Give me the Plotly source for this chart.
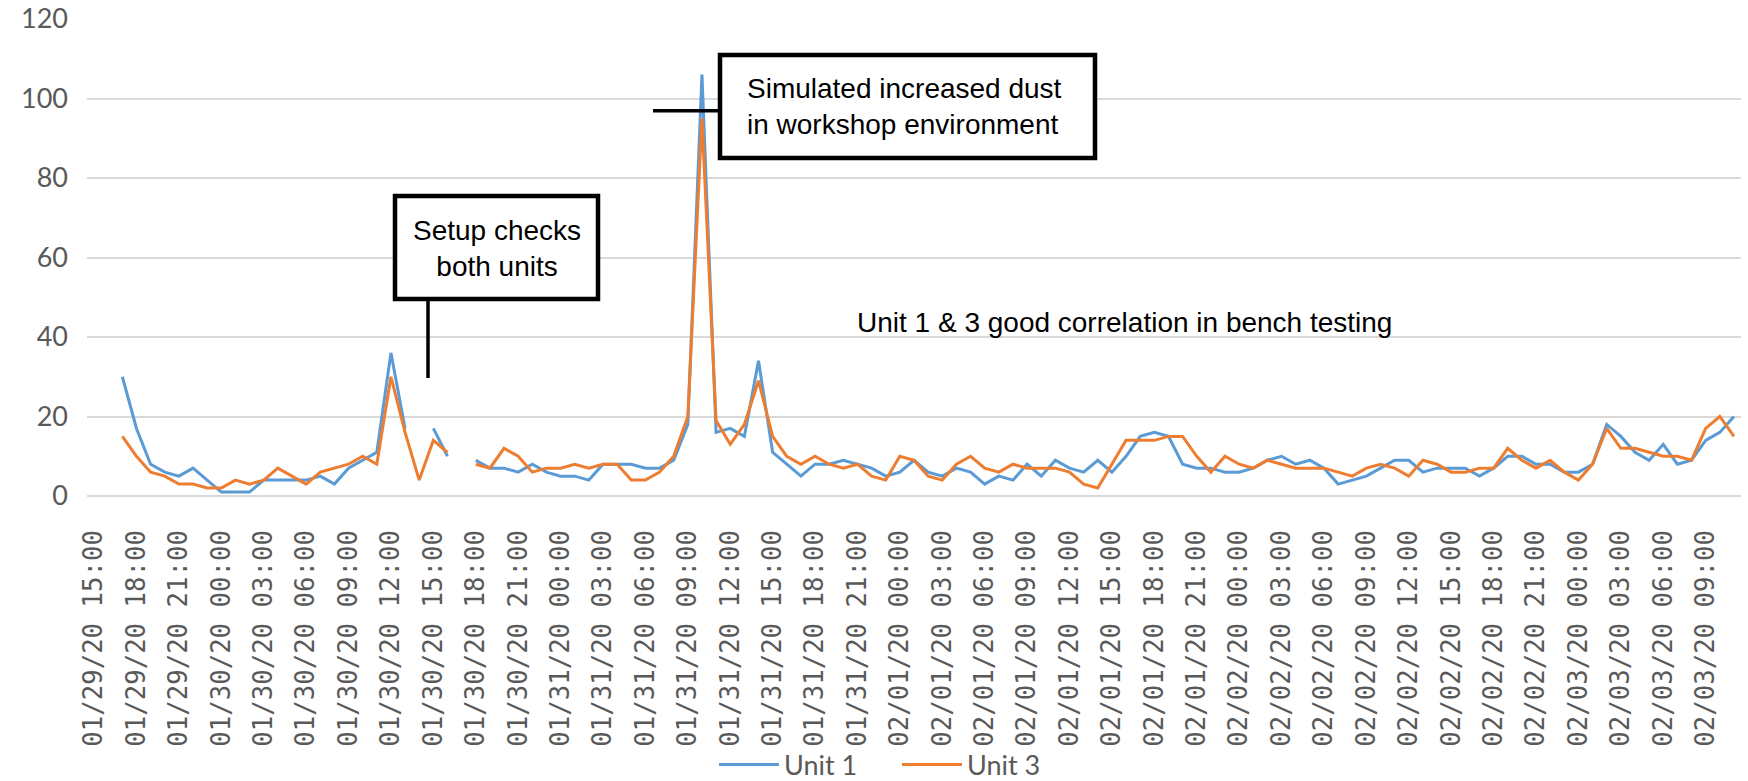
import pandas as pd
import plotly.graph_objects as go

# Hourly categories 01/29/20 15:00 .. 02/03/20 11:00
categories = [t.strftime("%m/%d/%y %H:%M") for t in pd.date_range("2020-01-29 15:00", "2020-02-03 11:00", freq="h")]
tick_labels = categories[::3]

unit1 = [None, None, 30, 17, 8, 6, 5, 7, 4, 1, 1, 1, 4, 4, 4, 4, 5, 3, 7, 9, 11, 36, 17, None, 17, 10, None,
         9, 7, 7, 6, 8, 6, 5, 5, 4, 8, 8, 8, 7, 7, 9, 18, 106, 16, 17, 15, 34,
         11, 8, 5, 8, 8, 9, 8, 7, 5, 6, 9, 6, 5, 7, 6, 3, 5, 4, 8, 5, 9, 7, 6, 9,
         6, 10, 15, 16, 15, 8, 7, 7, 6, 6, 7, 9, 10, 8, 9, 7, 3, 4, 5, 7, 9, 9, 6, 7,
         7, 7, 5, 7, 10, 10, 8, 8, 6, 6, 8, 18, 15, 11, 9, 13, 8, 9, 14, 16, 20]

unit3 = [None, None, 15, 10, 6, 5, 3, 3, 2, 2, 4, 3, 4, 7, 5, 3, 6, 7, 8, 10, 8, 30, 16, 4, 14, 11, None,
         8, 7, 12, 10, 6, 7, 7, 8, 7, 8, 8, 4, 4, 6, 10, 20, 95, 19, 13, 18, 29,
         15, 10, 8, 10, 8, 7, 8, 5, 4, 10, 9, 5, 4, 8, 10, 7, 6, 8, 7, 7, 7, 6, 3, 2,
         8, 14, 14, 14, 15, 15, 10, 6, 10, 8, 7, 9, 8, 7, 7, 7, 6, 5, 7, 8, 7, 5, 9, 8,
         6, 6, 7, 7, 12, 9, 7, 9, 6, 4, 8, 17, 12, 12, 11, 10, 10, 9, 17, 20, 15]

series_names = ["Unit 1", "Unit 3"]
series_colors = ["#5B9BD5", "#ED7D31"]

W, H = 1748, 781
L, R, T, B = 87, 7, 19, 285
PW, PH = W - L - R, H - T - B


def px(x):
    return (x - L) / PW


def py(y):
    return (H - B - y) / PH


fig = go.Figure()
for name, vals, col in zip(series_names, [unit1, unit3], series_colors):
    fig.add_trace(go.Scatter(x=categories, y=vals, name=name, mode="lines",
                             line=dict(color=col, width=3), connectgaps=False))

grid = "#D9D9D9"
fig.update_layout(
    width=W, height=H,
    margin=dict(l=L, r=R, t=T, b=B, autoexpand=False),
    paper_bgcolor="white", plot_bgcolor="white",
    showlegend=True,
    legend=dict(orientation="h", x=px(897), xanchor="center", y=py(765), yanchor="middle",
                font=dict(family="Lato", size=27, color="#595959"), itemwidth=60,
                entrywidth=108, bgcolor="rgba(0,0,0,0)"),
    xaxis=dict(type="category", categoryorder="array", categoryarray=categories,
               range=[-0.5, len(categories) - 0.5], automargin=False,
               tickmode="array", tickvals=tick_labels, ticktext=tick_labels,
               tickangle=-90, showgrid=False, showline=False, zeroline=False,
               ticks="", ticklabelstandoff=28,
               tickfont=dict(family="DejaVu Sans Mono", size=25.7, color="#595959")),
    yaxis=dict(range=[0, 120], dtick=20, showgrid=True, gridcolor=grid, gridwidth=2,
               zeroline=True, zerolinecolor=grid, zerolinewidth=2, showline=False,
               ticks="", ticklabelstandoff=18, automargin=False,
               tickfont=dict(family="Lato", size=27, color="#595959")),
)

box = dict(type="rect", xref="paper", yref="paper", line=dict(color="black", width=4.5),
           fillcolor="white", layer="above")
fig.add_shape(**box, x0=px(395), x1=px(598), y0=py(299), y1=py(196))
fig.add_shape(**box, x0=px(720), x1=px(1095), y0=py(158), y1=py(55))
fig.add_shape(type="line", xref="paper", yref="paper", x0=px(428), x1=px(428), y0=py(299), y1=py(378),
              line=dict(color="black", width=3.5), layer="above")
fig.add_shape(type="line", xref="paper", yref="paper", x0=px(653), x1=px(720), y0=py(110.7), y1=py(110.7),
              line=dict(color="black", width=3.5), layer="above")

afont = dict(family="Liberation Sans", size=28, color="black")
fig.add_annotation(text="Setup checks<br>both units", xref="paper", yref="paper", x=px(497), y=py(248),
                   xanchor="center", yanchor="middle", align="center", showarrow=False, font=afont)
fig.add_annotation(text="Simulated increased dust<br>in workshop environment", xref="paper", yref="paper",
                   x=px(745), y=py(106.5), xanchor="left", yanchor="middle", align="left", showarrow=False, font=afont)
fig.add_annotation(text="Unit 1 & 3 good correlation in bench testing", xref="paper", yref="paper",
                   x=px(855), y=py(322), xanchor="left", yanchor="middle", align="left", showarrow=False, font=afont)

fig.write_html("out.html", config={"displayModeBar": False},
               post_script="document.body.style.margin='0';document.body.style.overflow='hidden';")
